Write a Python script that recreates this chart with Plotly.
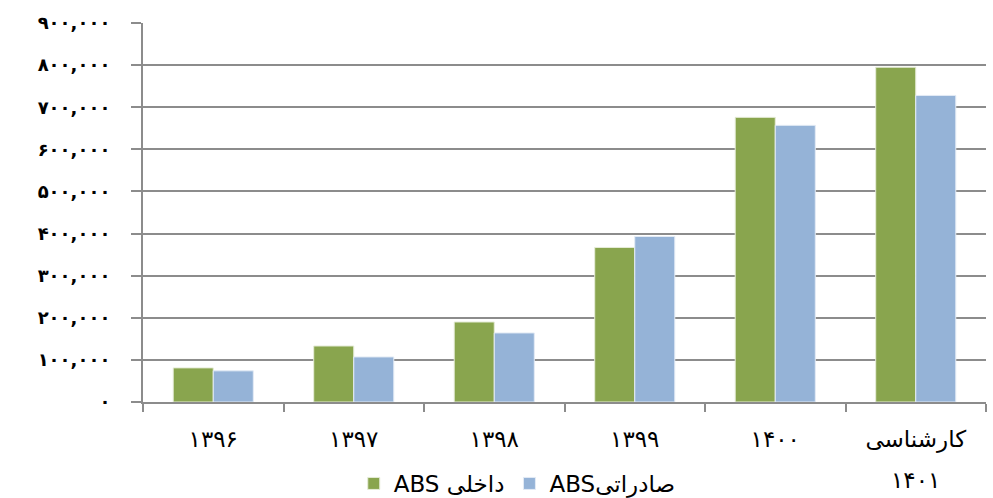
import plotly.graph_objects as go

# Years (Persian calendar), last one is an expert estimate
categories = ["۱۳۹۶", "۱۳۹۷", "۱۳۹۸", "۱۳۹۹", "۱۴۰۰", "کارشناسی ۱۴۰۱"]
series_names = ["ABS داخلی", "ABSصادراتی"]
domestic_abs = [81000, 133000, 190000, 367000, 676000, 795000]
export_abs = [74000, 107000, 164000, 393000, 657000, 728000]

y_tickvals = [0, 100000, 200000, 300000, 400000, 500000, 600000, 700000, 800000, 900000]
y_ticktext = ["۰", "۱۰۰,۰۰۰", "۲۰۰,۰۰۰", "۳۰۰,۰۰۰", "۴۰۰,۰۰۰", "۵۰۰,۰۰۰",
              "۶۰۰,۰۰۰", "۷۰۰,۰۰۰", "۸۰۰,۰۰۰", "۹۰۰,۰۰۰"]

GREEN = "#89A54E"
BLUE = "#95B3D7"
GRID = "#8C8C8C"
FONT = "DejaVu Sans, Liberation Sans, sans-serif"

# first word of each category on the axis, any remaining words on a second line
first_lines = [c.split(" ")[0] for c in categories]
second_lines = [" ".join(c.split(" ")[1:]) for c in categories]

fig = go.Figure()
fig.add_trace(go.Bar(
    x=categories, y=domestic_abs, name=series_names[0],
    marker=dict(color=GREEN, line=dict(color="#E6ECD8", width=1)),
))
fig.add_trace(go.Bar(
    x=categories, y=export_abs, name=series_names[1],
    marker=dict(color=BLUE, line=dict(color="#E3EBF5", width=1)),
))

for cat, second in zip(categories, second_lines):
    if second:
        fig.add_annotation(
            x=cat, xref="x", y=0, yref="y", yanchor="middle",
            yshift=-78, text=second, showarrow=False,
            font=dict(family=FONT, size=23, color="#000000"),
        )

fig.update_layout(
    width=993, height=498,
    margin=dict(l=143, r=7, t=23, b=96, autoexpand=False),
    paper_bgcolor="white", plot_bgcolor="white",
    barmode="group", bargap=0.43, bargroupgap=0,
    font=dict(family=FONT, color="#000000"),
    showlegend=True,
    legend=dict(
        orientation="h", x=0.25, xanchor="left", y=-0.215, yanchor="middle",
        font=dict(family=FONT, size=23, color="#000000"),
        itemwidth=30, traceorder="normal",
    ),
    xaxis=dict(
        tickmode="array", tickvals=categories, ticktext=first_lines,
        tickson="boundaries", ticks="outside", ticklen=8, tickwidth=2,
        tickcolor=GRID, showline=True, linecolor=GRID, linewidth=2,
        showgrid=False, tickfont=dict(family=FONT, size=23, color="#000000"),
        ticklabelstandoff=15,
    ),
    yaxis=dict(
        range=[0, 900000], tickmode="array", tickvals=y_tickvals, ticktext=y_ticktext,
        ticks="outside", ticklen=10, tickwidth=2, tickcolor=GRID,
        showline=True, linecolor=GRID, linewidth=2,
        showgrid=True, gridcolor=GRID, gridwidth=2, zeroline=False,
        tickfont=dict(family=FONT, size=18, color="#000000", weight="bold"),
        ticklabelstandoff=17,
    ),
)

fig.write_html("out.html")
